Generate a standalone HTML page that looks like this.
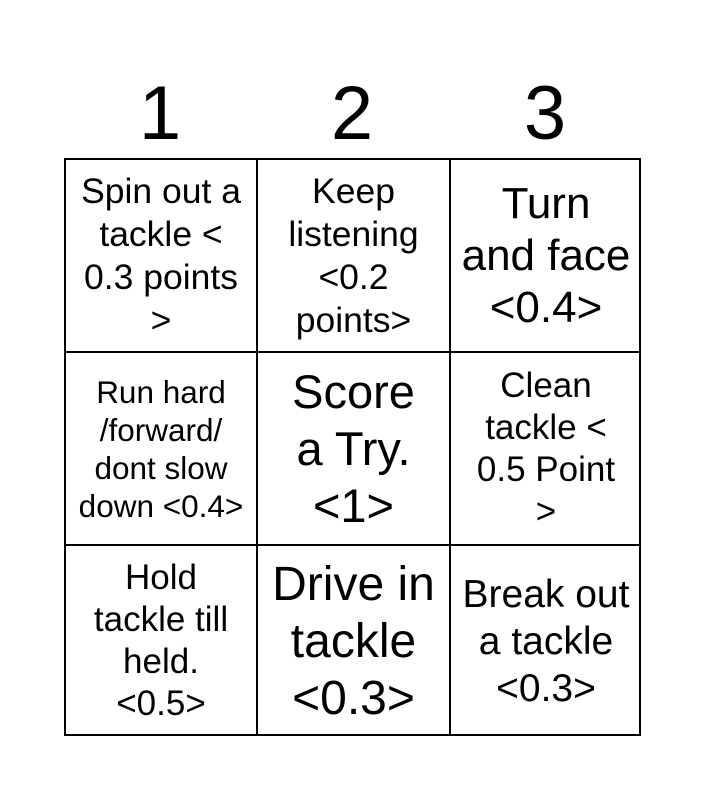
<!DOCTYPE html>
<html><head><style>
body{margin:0;width:705px;height:800px;background:#fff;font-family:"Liberation Sans",Arial,sans-serif;position:relative;overflow:hidden}
.h{position:absolute;top:72px;font-size:76px;line-height:84px;width:192px;text-align:center}
.g{position:absolute;left:64px;top:158px;width:577px;height:578px;border:2px solid #000;box-sizing:border-box}
.c{position:absolute;display:flex;align-items:center;justify-content:center;text-align:center;box-sizing:border-box;border-right:2px solid #000;border-bottom:2px solid #000;padding:0;white-space:nowrap}
</style></head><body>
<div class="h" style="left:64px">1</div>
<div class="h" style="left:256px">2</div>
<div class="h" style="left:449px">3</div>
<div class="g">
<div class="c" style="left:0;top:0;width:192px;height:193px;font-size:35.5px;line-height:43px">Spin out a<br>tackle &lt;<br>0.3 points<br>&gt;</div>
<div class="c" style="left:192px;top:0;width:193px;height:193px;font-size:35.5px;line-height:43px">Keep<br>listening<br>&lt;0.2<br>points&gt;</div>
<div class="c" style="left:385px;top:0;width:190px;height:193px;border-right:none;font-size:44px;line-height:52px">Turn<br>and face<br>&lt;0.4&gt;</div>
<div class="c" style="left:0;top:193px;width:192px;height:193px;font-size:31.5px;line-height:38px">Run hard<br>/forward/<br>dont slow<br>down &lt;0.4&gt;</div>
<div class="c" style="left:192px;top:193px;width:193px;height:193px;font-size:47px;line-height:57px">Score<br>a Try.<br>&lt;1&gt;</div>
<div class="c" style="left:385px;top:193px;width:190px;height:193px;border-right:none;font-size:35px;line-height:42px">Clean<br>tackle &lt;<br>0.5 Point<br>&gt;</div>
<div class="c" style="left:0;top:386px;width:192px;height:190px;border-bottom:none;font-size:35px;line-height:42px">Hold<br>tackle till<br>held.<br>&lt;0.5&gt;</div>
<div class="c" style="left:192px;top:386px;width:193px;height:190px;border-bottom:none;font-size:48px;line-height:57px">Drive in<br>tackle<br>&lt;0.3&gt;</div>
<div class="c" style="left:385px;top:386px;width:190px;height:190px;border:none;font-size:39px;line-height:47px">Break out<br>a tackle<br>&lt;0.3&gt;</div>
</div>
</body></html>
